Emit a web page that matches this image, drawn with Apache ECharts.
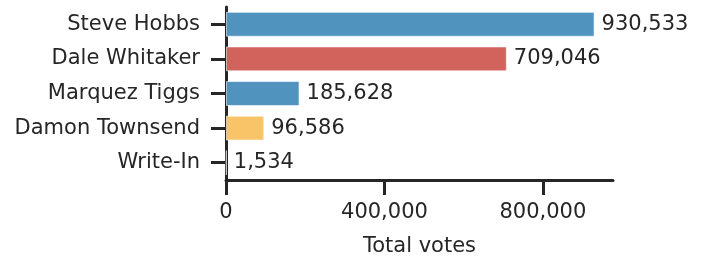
<!DOCTYPE html>
<html>
<head>
<meta charset="utf-8">
<script src="https://cdn.jsdelivr.net/npm/echarts@6/dist/echarts.min.js"></script>
<style>
  html, body { margin: 0; padding: 0; background: #fff; }
  #chart { width: 702px; height: 259px; }
</style>
</head>
<body>
<div id="chart"></div>
<script>
// data
var candidates = ['Steve Hobbs', 'Dale Whitaker', 'Marquez Tiggs', 'Damon Townsend', 'Write-In'];
var votes = [930533, 709046, 185628, 96586, 1534];
var barColors = ['#5093bf', '#d1625c', '#5093bf', '#f9c467', '#5093bf'];
var xTicks = [0, 400000, 800000];

var myChart = echarts.init(document.getElementById('chart'));

var fmt = function (v) { return Number(v).toLocaleString('en-US'); };
var txt = '#262626';
var font = 'DejaVu Sans';

var option = {
  animation: false,
  grid: { left: 226, right: 89, top: 7, bottom: 79, containLabel: false, outerBoundsMode: 'none' },
  xAxis: {
    type: 'value',
    min: 0,
    max: 977060,
    interval: xTicks[1] - xTicks[0],
    name: 'Total votes',
    nameLocation: 'middle',
    nameGap: 56,
    nameTextStyle: { color: txt, fontSize: 21, fontFamily: font },
    axisLine: { show: true, lineStyle: { color: txt, width: 3 } },
    axisTick: { show: true, length: 15, lineStyle: { color: txt, width: 3 } },
    axisLabel: {
      color: txt, fontSize: 21, fontFamily: font, margin: 22,
      showMaxLabel: false,
      formatter: function (v) { return xTicks.indexOf(v) >= 0 ? fmt(v) : ''; }
    },
    splitLine: { show: false }
  },
  yAxis: {
    type: 'category',
    inverse: true,
    data: candidates,
    axisLine: { show: true, lineStyle: { color: txt, width: 3 } },
    axisTick: { show: true, length: 15, alignWithLabel: true, lineStyle: { color: txt, width: 3 } },
    axisLabel: { color: txt, fontSize: 21, fontFamily: font, margin: 26 },
    splitLine: { show: false }
  },
  series: [
    {
      type: 'bar',
      data: votes.map(function (v, i) {
        return { value: v, itemStyle: { color: barColors[i] } };
      }),
      barWidth: '72%',
      itemStyle: { borderColor: 'rgba(255,255,255,0.6)', borderWidth: 1 },
      label: {
        show: true,
        position: 'right',
        distance: 7,
        color: txt,
        fontSize: 21,
        fontFamily: font,
        formatter: function (p) { return fmt(p.value); }
      },
      z: 1
    }
  ]
};

myChart.setOption(option);
</script>
</body>
</html>
